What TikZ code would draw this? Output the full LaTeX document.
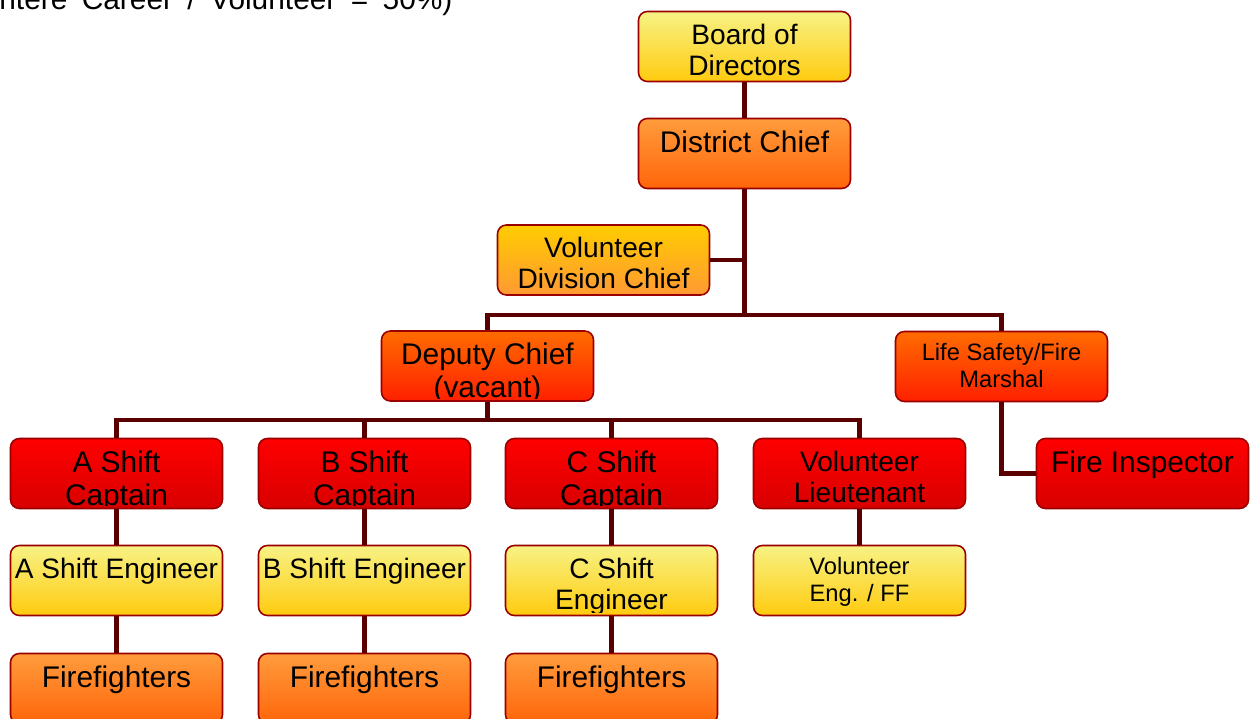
\documentclass[tikz,border=0pt]{standalone}
\usepackage{fontspec}
\setmainfont{Liberation Sans}
\usetikzlibrary{calc}

\definecolor{linkred}{HTML}{5A0000}
\definecolor{edgered}{HTML}{9A0000}
\definecolor{yellowtop}{HTML}{F7F285}
\definecolor{yellowbot}{HTML}{FFCB0F}
\definecolor{orangetop}{HTML}{FF9C3C}
\definecolor{orangebot}{HTML}{FF650A}
\definecolor{goldtop}{HTML}{FFCC00}
\definecolor{goldbot}{HTML}{FF9933}
\definecolor{redorangetop}{HTML}{FF6C00}
\definecolor{redorangebot}{HTML}{FF2000}
\definecolor{redtop}{HTML}{FF0000}
\definecolor{redbot}{HTML}{D80000}

\newcommand{\bigfont}{\fontsize{17}{18.8}\selectfont}
\newcommand{\midfont}{\fontsize{16}{17.6}\selectfont}
\newcommand{\smallfont}{\fontsize{13.5}{15}\selectfont}

\tikzset{
  orgbox/.style={draw=edgered, line width=0.9pt, rounded corners=5pt,
    minimum width=4.24cm, minimum height=1.40cm, inner sep=0pt},
  yellowbox/.style={orgbox, top color=yellowtop, bottom color=yellowbot},
  orangebox/.style={orgbox, top color=orangetop, bottom color=orangebot},
  goldbox/.style={orgbox, top color=goldtop, bottom color=goldbot},
  hotbox/.style={orgbox, top color=redorangetop, bottom color=redorangebot},
  redbox/.style={orgbox, top color=redtop, bottom color=redbot},
  boxtext/.style={path picture={
    \clip ([yshift=1.6pt]path picture bounding box.south west) rectangle (path picture bounding box.north east);
    \node[anchor=north, align=center, inner sep=0pt, draw=none,
      minimum width=0pt, minimum height=0pt]
      at ([yshift=-6.5pt]path picture bounding box.north) {#1};}},
  link/.style={draw=linkred, line width=2.8pt},
}

\begin{document}
\begin{tikzpicture}[x=0.02cm, y=-0.02cm]
  \useasboundingbox (0,0) rectangle (1257,719);

  % caption cut off by the page edge
  \node[anchor=base west, inner sep=0pt, font=\bigfont] (note) at (-1,9.5) {\spaceskip=8.2pt ntere Career / Volunteer = 50\%)};

  % chiefs
  \node[yellowbox, font=\midfont, boxtext={Board of\\Directors}] (board) at (744.5,46.5) {};
  \node[orangebox, font=\bigfont, boxtext={District Chief}] (district) at (744.5,153.5) {};
  \node[goldbox, font=\midfont, boxtext={Volunteer\\Division Chief}] (divchief) at (603.5,260) {};
  \node[hotbox, font=\bigfont, boxtext={Deputy Chief\\(vacant)}] (deputy) at (487.5,366) {};
  \node[hotbox, font=\smallfont, boxtext={Life Safety/Fire\\Marshal}] (marshal) at (1001.5,366.5) {};
  \node[redbox, font=\bigfont, boxtext={Fire Inspector}] (inspector) at (1142.5,473.5) {};

  % shifts
  \node[redbox, font=\bigfont, boxtext={A Shift\\Captain}] (acapt) at (116.5,473.5) {};
  \node[redbox, font=\bigfont, boxtext={B Shift\\Captain}] (bcapt) at (364.5,473.5) {};
  \node[redbox, font=\bigfont, boxtext={C Shift\\Captain}] (ccapt) at (611.5,473.5) {};
  \node[redbox, font=\midfont, boxtext={Volunteer\\Lieutenant}] (lieut) at (859.5,473.5) {};

  \node[yellowbox, font=\midfont, boxtext={A Shift Engineer}] (aeng) at (116.5,580.5) {};
  \node[yellowbox, font=\midfont, boxtext={B Shift Engineer}] (beng) at (364.5,580.5) {};
  \node[yellowbox, font=\midfont, boxtext={C Shift\\Engineer}] (ceng) at (611.5,580.5) {};
  \node[yellowbox, font=\smallfont, boxtext={Volunteer\\Eng. / FF}] (voleng) at (859.5,580.5) {};

  \node[orangebox, font=\bigfont, boxtext={Firefighters}] (aff) at (116.5,688.5) {};
  \node[orangebox, font=\bigfont, boxtext={Firefighters}] (bff) at (364.5,688.5) {};
  \node[orangebox, font=\bigfont, boxtext={Firefighters}] (cff) at (611.5,688.5) {};

  % connectors
  \coordinate (topbus) at (744.5,315);
  \coordinate (midbus) at (487.5,420);
  \draw[link] (board.south) -- (district.north);
  \draw[link] (district.south) -- (topbus);
  \draw[link] (divchief.east) -- (divchief.east -| topbus);
  \draw[link] (deputy.north) |- (topbus) -| (marshal.north);
  \draw[link] (deputy.south) -- (midbus);
  \draw[link] (acapt.north) |- (midbus) -| (lieut.north);
  \draw[link] (bcapt.north) -- (bcapt.north |- midbus);
  \draw[link] (ccapt.north) -- (ccapt.north |- midbus);
  \draw[link] (marshal.south) |- (inspector.west);
  \draw[link] (lieut.south) -- (voleng.north);
  \foreach \s in {a,b,c} {
    \draw[link] (\s capt.south) -- (\s eng.north);
    \draw[link] (\s eng.south) -- (\s ff.north);
  }
\end{tikzpicture}
\end{document}
